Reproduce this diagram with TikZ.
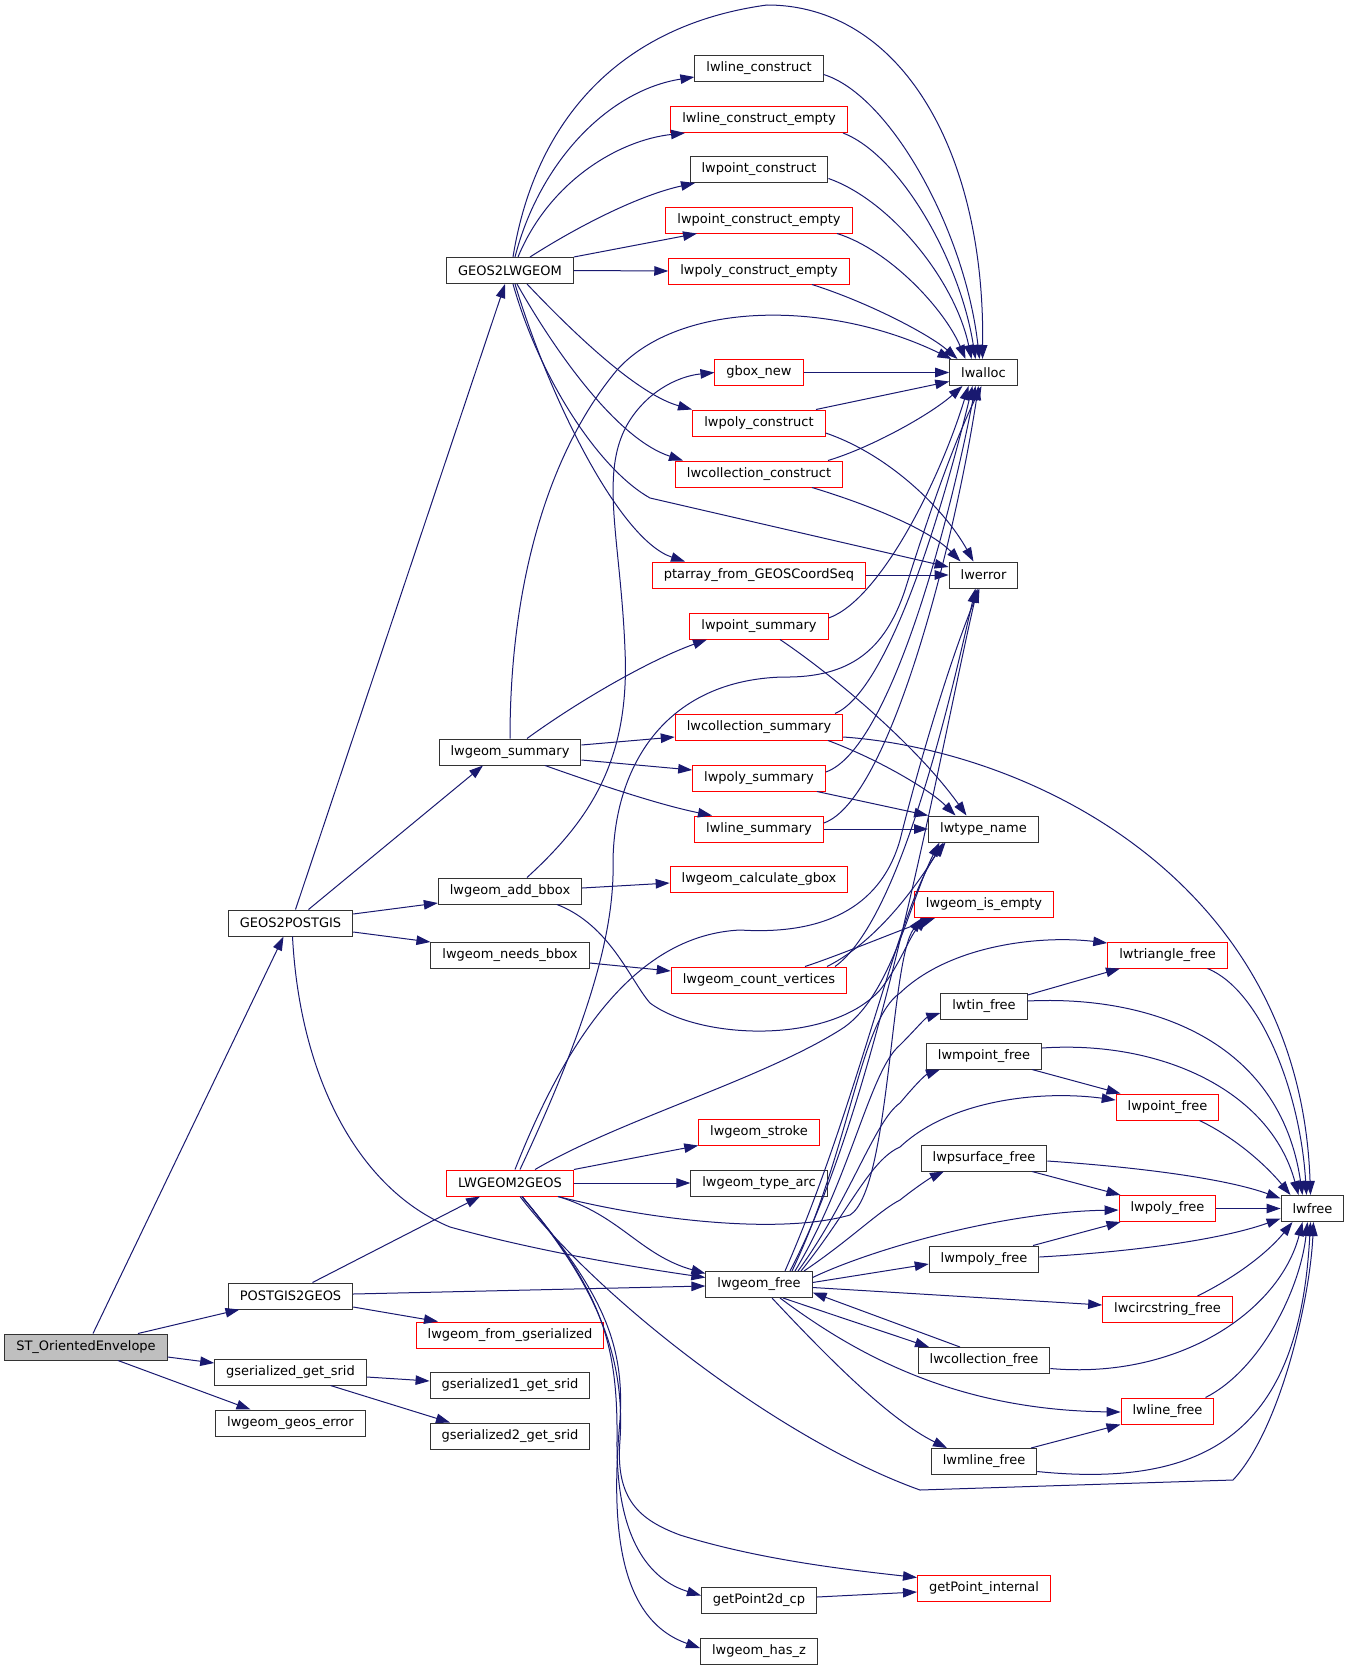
\documentclass[tikz,border=0pt]{standalone}
\usepackage{fontspec}
\setmainfont{DejaVu Sans}
\usetikzlibrary{arrows.meta}
\definecolor{edgeblue}{HTML}{191970}
\definecolor{boxred}{HTML}{FF0000}
\definecolor{rootgray}{HTML}{BFBFBF}
\tikzset{
  fn/.style={draw=black!80, fill=white, line width=1pt, rectangle, minimum height=26pt,
    inner xsep=11.5pt, inner ysep=0pt, font=\fontsize{13}{15}\selectfont},
  trunc/.style={fn, draw=boxred},
  call/.style={draw=edgeblue, line width=1pt, -{Triangle[length=14pt,width=9.5pt]}},
}
\begin{document}
\begin{tikzpicture}[x=1pt,y=-1pt]
  \useasboundingbox (0,0) rectangle (1349,1670);
  % callers on the left
  \node[fn, fill=rootgray] (st) at (86,1347) {ST\_OrientedEnvelope};
  \node[fn] (g2p) at (290.5,923) {GEOS2POSTGIS};
  \node[fn] (p2g) at (290.5,1296) {POSTGIS2GEOS};
  \node[fn] (gsrid) at (290.5,1372) {gserialized\_get\_srid};
  \node[fn] (geoserr) at (290.5,1423) {lwgeom\_geos\_error};
  \node[fn] (g2l) at (510,270.5) {GEOS2LWGEOM};
  \node[fn] (summ) at (510,752) {lwgeom\_summary};
  \node[fn] (addbb) at (510,891) {lwgeom\_add\_bbox};
  \node[fn] (needbb) at (510,955) {lwgeom\_needs\_bbox};
  \node[trunc] (l2g) at (510,1183) {LWGEOM2GEOS};
  \node[trunc] (fromgs) at (510,1335) {lwgeom\_from\_gserialized};
  \node[fn] (gsa) at (510,1385.5) {gserialized1\_get\_srid};
  \node[fn] (gsb) at (510,1436) {gserialized2\_get\_srid};
  % middle column
  \node[fn] (lcon) at (759,68.5) {lwline\_construct};
  \node[trunc] (lcone) at (759,119.5) {lwline\_construct\_empty};
  \node[fn] (pcon) at (759,169.5) {lwpoint\_construct};
  \node[trunc] (pcone) at (759,220) {lwpoint\_construct\_empty};
  \node[trunc] (polycone) at (759,271) {lwpoly\_construct\_empty};
  \node[trunc] (gbox) at (759,372.5) {gbox\_new};
  \node[trunc] (polycon) at (759,423) {lwpoly\_construct};
  \node[trunc] (collcon) at (759,474) {lwcollection\_construct};
  \node[trunc] (ptarr) at (759,575) {ptarray\_from\_GEOSCoordSeq};
  \node[trunc] (ptsum) at (759,626) {lwpoint\_summary};
  \node[trunc] (collsum) at (759,727) {lwcollection\_summary};
  \node[trunc] (polysum) at (759,778) {lwpoly\_summary};
  \node[trunc] (linesum) at (759,829) {lwline\_summary};
  \node[trunc] (calcgbox) at (759,879) {lwgeom\_calculate\_gbox};
  \node[trunc] (countv) at (759,980) {lwgeom\_count\_vertices};
  \node[trunc] (stroke) at (759,1132) {lwgeom\_stroke};
  \node[fn] (typearc) at (759,1183) {lwgeom\_type\_arc};
  \node[fn] (lgfree) at (759,1284.5) {lwgeom\_free};
  \node[fn] (gp2d) at (759,1600.5) {getPoint2d\_cp};
  \node[fn] (hasz) at (759,1651) {lwgeom\_has\_z};
  % right columns
  \node[fn] (lwalloc) at (983.5,372.5) {lwalloc};
  \node[fn] (lwerror) at (983.5,575) {lwerror};
  \node[fn] (typename) at (983.5,829) {lwtype\_name};
  \node[trunc] (isempty) at (984,904.5) {lwgeom\_is\_empty};
  \node[fn] (tinfree) at (984,1006) {lwtin\_free};
  \node[fn] (mptfree) at (984,1056) {lwmpoint\_free};
  \node[fn] (psurffree) at (984,1158) {lwpsurface\_free};
  \node[fn] (mpolyfree) at (984,1259) {lwmpoly\_free};
  \node[fn] (collfree) at (984,1360.5) {lwcollection\_free};
  \node[fn] (mlinefree) at (984,1461.5) {lwmline\_free};
  \node[trunc] (gpint) at (984,1588.5) {getPoint\_internal};
  \node[trunc] (trifree) at (1167.5,955) {lwtriangle\_free};
  \node[trunc] (ptfree) at (1167.5,1107) {lwpoint\_free};
  \node[trunc] (polyfree) at (1167.5,1208.5) {lwpoly\_free};
  \node[trunc] (circfree) at (1167.5,1309.5) {lwcircstring\_free};
  \node[trunc] (linefree) at (1167.5,1411) {lwline\_free};
  \node[fn] (lwfree) at (1312.5,1208.5) {lwfree};

  % ST_OrientedEnvelope and its callees
  \draw[call] ([xshift=7]st.north) -- ([xshift=-7]g2p.south);
  \draw[call] ([xshift=52]st.north) -- ([xshift=-51]p2g.south);
  \draw[call] ([yshift=-10]st.east) -- ([yshift=9]gsrid.west);
  \draw[call] ([xshift=32]st.south) -- ([xshift=-40]geoserr.north);
  \draw[call] ([xshift=5]g2p.north) -- ([xshift=-5]g2l.south);
  \draw[call] ([xshift=18]g2p.north) -- ([xshift=-27]summ.south);
  \draw[call] ([yshift=9]g2p.east) -- ([yshift=-12]addbb.west);
  \draw[call] ([yshift=-9]g2p.east) -- ([yshift=13]needbb.west);
  \draw[call] ([xshift=2]g2p.south) .. controls (300,1080) and (360,1190) .. (450,1227)
    .. controls (540,1252) and (640,1268) .. ([yshift=7]lgfree.west);
  \draw[call] ([xshift=22]p2g.north) -- ([xshift=-30]l2g.south);
  \draw[call] ([yshift=2]p2g.east) -- ([yshift=-1.5]lgfree.west);
  \draw[call] ([yshift=-11]p2g.east) -- ([xshift=-72]fromgs.north);
  \draw[call] ([yshift=-5]gsrid.east) -- ([yshift=4.5]gsa.west);
  \draw[call] ([xshift=40]gsrid.south) -- ([xshift=-60]gsb.north);

  % GEOS2LWGEOM
  \draw[call] ([xshift=5]g2l.north) .. controls (540,160) and (610,90) .. ([yshift=-8.5]lcon.west);
  \draw[call] ([xshift=8]g2l.north) .. controls (550,180) and (620,140) .. ([xshift=-74]lcone.south);
  \draw[call] ([xshift=20]g2l.north) .. controls (580,225) and (640,195) .. ([xshift=-64]pcon.south);
  \draw[call] (g2l.north east) -- ([xshift=-62]pcone.south);
  \draw[call] (g2l.east) -- (polycone.west);
  \draw[call] ([xshift=3]g2l.north) .. controls (535,120) and (620,25) .. (767,5)
    .. controls (900,5) and (985,150) .. ([xshift=-1]lwalloc.north);
  \draw[call] ([xshift=17]g2l.south) .. controls (580,340) and (640,395) .. ([xshift=-67]polycon.north);
  \draw[call] ([xshift=7]g2l.south) .. controls (560,360) and (620,440) .. ([xshift=-76]collcon.north);
  \draw[call] ([xshift=5]g2l.south) .. controls (550,400) and (620,540) .. ([xshift=-74]ptarr.north);
  \draw[call] ([xshift=3]g2l.south) .. controls (540,380) and (600,470) .. (650,498) -- ([yshift=8]lwerror.west);

  % constructors
  \draw[call] ([yshift=-6]lcon.east) .. controls (890,95) and (965,230) .. ([xshift=-4]lwalloc.north);
  \draw[call] ([xshift=84]lcone.south) .. controls (900,155) and (960,260) .. ([xshift=-8]lwalloc.north);
  \draw[call] ([yshift=-9]pcon.east) .. controls (890,200) and (955,280) .. ([xshift=-12]lwalloc.north);
  \draw[call] ([xshift=78]pcone.south) .. controls (890,250) and (945,310) .. ([xshift=-18]lwalloc.north);
  \draw[call] ([xshift=53]polycone.south) .. controls (870,303) and (930,335) .. ([xshift=-26]lwalloc.north);
  \draw[call] (gbox.east) -- (lwalloc.west);
  \draw[call] ([xshift=57]polycon.north) -- ([yshift=-9]lwalloc.west);
  \draw[call] ([yshift=-10]polycon.east) .. controls (890,455) and (945,510) .. ([xshift=-10]lwerror.north);
  \draw[call] ([xshift=69]collcon.north) .. controls (870,448) and (930,415) .. ([xshift=-21]lwalloc.south);
  \draw[call] ([xshift=53]collcon.south) .. controls (870,505) and (930,530) .. ([xshift=-23]lwerror.north);
  \draw[call] (ptarr.east) -- (lwerror.west);

  % lwgeom_summary
  \draw[call] (summ.north) .. controls (510,580) and (550,450) .. (617,370)
    .. controls (680,300) and (830,300) .. ([xshift=-32]lwalloc.north);
  \draw[call] ([xshift=17]summ.north) .. controls (580,700) and (650,660) .. ([xshift=-52]ptsum.south);
  \draw[call] ([yshift=7]summ.east) -- ([yshift=-10]collsum.west);
  \draw[call] ([yshift=-8]summ.east) -- ([yshift=8]polysum.west);
  \draw[call] ([xshift=35]summ.south) .. controls (600,785) and (660,805) .. ([xshift=-47]linesum.north);
  \draw[call] ([yshift=8]ptsum.east) .. controls (880,600) and (940,480) .. ([xshift=-15]lwalloc.south);
  \draw[call] ([xshift=76]collsum.north) .. controls (890,690) and (945,500) .. ([xshift=-11]lwalloc.south);
  \draw[call] ([yshift=6]polysum.east) .. controls (890,750) and (950,520) .. ([xshift=-8]lwalloc.south);
  \draw[call] ([yshift=6]linesum.east) .. controls (890,800) and (955,540) .. ([xshift=-5]lwalloc.south);
  \draw[call] ([xshift=21]ptsum.south) .. controls (840,680) and (920,750) .. ([xshift=-17]typename.north);
  \draw[call] ([xshift=69]collsum.south) .. controls (880,760) and (930,790) .. ([xshift=-28]typename.north);
  \draw[call] ([xshift=58]polysum.south) -- (typename.north west);
  \draw[call] (linesum.east) -- (typename.west);
  \draw[call] ([yshift=-10]collsum.east) .. controls (1030,750) and (1300,880) .. ([xshift=-2]lwfree.north);

  % bbox helpers
  \draw[call] ([yshift=3]addbb.east) -- ([yshift=-4]calcgbox.west);
  \draw[call] ([xshift=17]addbb.north) .. controls (590,820) and (630,760) .. (625,650)
    .. controls (620,520) and (590,450) .. (650,397) .. controls (670,380) and (690,375) .. (gbox.west);
  \draw[call] ([xshift=47]addbb.south) .. controls (610,925) and (630,980) .. (650,1003)
    .. controls (700,1040) and (830,1045) .. (880,990) .. controls (900,965) and (910,935) .. ([xshift=-56]isempty.south);
  \draw[call] ([yshift=-8]needbb.east) -- ([yshift=9]countv.west);
  \draw[call] ([xshift=46]countv.north) .. controls (840,955) and (900,930) .. ([xshift=-49]isempty.south);
  \draw[call] ([xshift=68]countv.north) .. controls (880,940) and (920,880) .. ([xshift=-40]typename.south);
  \draw[call] ([xshift=76]countv.north) .. controls (900,920) and (950,700) .. ([xshift=-8]lwerror.south);

  % LWGEOM2GEOS
  \draw[call] (l2g.north east) -- (stroke.south west);
  \draw[call] (l2g.east) -- (typearc.west);
  \draw[call] ([xshift=48]l2g.south) .. controls (620,1215) and (640,1255) .. ([yshift=11]lgfree.west);
  \draw[call] ([xshift=10]l2g.north) .. controls (590,1020) and (615,930) .. (613,860)
    .. controls (615,760) and (670,680) .. (783,677) .. controls (850,678) and (885,650) .. (905,590)
    .. controls (930,510) and (955,440) .. ([xshift=-2]lwalloc.south);
  \draw[call] ([xshift=5]l2g.north) .. controls (570,1030) and (640,935) .. (740,930)
    .. controls (820,935) and (880,910) .. (900,840) .. controls (920,760) and (950,660) .. ([xshift=-4]lwerror.south);
  \draw[call] ([xshift=25]l2g.north) .. controls (620,1120) and (760,1080) .. (840,1030)
    .. controls (890,1000) and (910,900) .. ([xshift=-44]typename.south);
  \draw[call] ([xshift=48]l2g.south) .. controls (650,1220) and (780,1235) .. (850,1215)
    .. controls (890,1190) and (890,960) .. ([xshift=-62]isempty.south);
  \draw[call] ([xshift=10]l2g.south) .. controls (600,1300) and (780,1440) .. (920,1490) -- (1233,1480)
    .. controls (1280,1430) and (1310,1300) .. ([xshift=1]lwfree.south);
  \draw[call] ([xshift=12]l2g.south) .. controls (600,1290) and (625,1360) .. (620,1440)
    .. controls (615,1500) and (640,1520) .. (680,1535) .. controls (760,1560) and (850,1570) .. ([yshift=11]gpint.west);
  \draw[call] ([xshift=12]l2g.south) .. controls (600,1290) and (618,1340) .. (617,1440)
    .. controls (616,1540) and (650,1580) .. ([yshift=5]gp2d.west);
  \draw[call] ([xshift=12]l2g.south) .. controls (600,1290) and (625,1340) .. (620,1420)
    .. controls (610,1530) and (620,1620) .. ([yshift=3]hasz.west);
  \draw[call] ([yshift=3.5]gp2d.east) -- ([yshift=-3.5]gpint.west);

  % lwgeom_free
  \draw[call] ([xshift=31]lgfree.north) .. controls (880,1100) and (940,750) .. ([xshift=-6]lwerror.south);
  \draw[call] ([xshift=26]lgfree.north) .. controls (860,1100) and (900,900) .. ([xshift=-38]typename.south);
  \draw[call] ([xshift=33]lgfree.north) .. controls (850,1150) and (860,1020) .. (900,993)
    .. controls (950,945) and (1040,935) .. ([yshift=12]trifree.west);
  \draw[call] ([xshift=36]lgfree.north) .. controls (850,1180) and (870,1070) .. (900,1045)
    .. controls (915,1030) and (925,1018) .. ([yshift=-7]tinfree.west);
  \draw[call] ([xshift=39]lgfree.north) .. controls (850,1200) and (875,1120) .. (900,1103)
    .. controls (915,1085) and (925,1075) .. ([xshift=-44]mptfree.south);
  \draw[call] ([xshift=42]lgfree.north) .. controls (850,1210) and (870,1160) .. (900,1147)
    .. controls (950,1100) and (1040,1090) .. ([yshift=7]ptfree.west);
  \draw[call] ([xshift=45]lgfree.north) .. controls (850,1240) and (880,1210) .. (900,1200)
    .. controls (915,1188) and (930,1178) .. ([xshift=-40]psurffree.south);
  \draw[call] ([yshift=7]lgfree.east) .. controls (870,1250) and (1000,1212) .. ([yshift=-1.5]polyfree.west);
  \draw[call] ([yshift=2]lgfree.east) -- ([yshift=-5]mpolyfree.west);
  \draw[call] ([yshift=-3]lgfree.east) -- ([yshift=4.5]circfree.west);
  \draw[call] ([xshift=-24]collfree.north) -- ([yshift=-8]lgfree.east);
  \draw[call] ([xshift=24]lgfree.south) -- ([xshift=-55]collfree.north);
  \draw[call] ([xshift=21]lgfree.south) .. controls (850,1350) and (950,1410) .. ([yshift=-1]linefree.west);
  \draw[call] ([xshift=13]lgfree.south) .. controls (830,1360) and (890,1420) .. ([xshift=-37]mlinefree.north);

  % the free functions
  \draw[call] ([yshift=11]tinfree.east) -- ([xshift=-47.5]trifree.south);
  \draw[call] ([yshift=5]tinfree.east) .. controls (1150,995) and (1280,1040) .. ([xshift=-10]lwfree.north);
  \draw[call] ([xshift=48]mptfree.south) -- ([xshift=-47]ptfree.north);
  \draw[call] ([yshift=8]mptfree.east) .. controls (1160,1040) and (1270,1090) .. ([xshift=-14]lwfree.north);
  \draw[call] ([xshift=40]trifree.south) .. controls (1260,990) and (1300,1090) .. ([xshift=-6]lwfree.north);
  \draw[call] ([xshift=32]ptfree.south) .. controls (1240,1140) and (1270,1170) .. ([xshift=-22]lwfree.north);
  \draw[call] ([yshift=-3]psurffree.east) .. controls (1150,1168) and (1230,1180) .. ([yshift=10]lwfree.west);
  \draw[call] ([xshift=48]psurffree.south) -- ([xshift=-47]polyfree.north);
  \draw[call] (polyfree.east) -- (lwfree.west);
  \draw[call] ([xshift=49]mpolyfree.north) -- ([xshift=-47]polyfree.south);
  \draw[call] ([yshift=2]mpolyfree.east) .. controls (1130,1252) and (1220,1240) .. ([yshift=-10]lwfree.west);
  \draw[call] ([xshift=30]circfree.north) .. controls (1240,1275) and (1270,1250) .. ([xshift=-20]lwfree.south);
  \draw[call] ([yshift=-8]collfree.east) .. controls (1180,1380) and (1280,1310) .. ([xshift=-10]lwfree.south);
  \draw[call] ([xshift=38]linefree.north) .. controls (1260,1370) and (1300,1290) .. ([xshift=-5]lwfree.south);
  \draw[call] ([xshift=47]mlinefree.north) -- ([xshift=-47]linefree.south);
  \draw[call] ([yshift=-10]mlinefree.east) .. controls (1220,1490) and (1300,1420) .. ([xshift=-2]lwfree.south);
\end{tikzpicture}
\end{document}
